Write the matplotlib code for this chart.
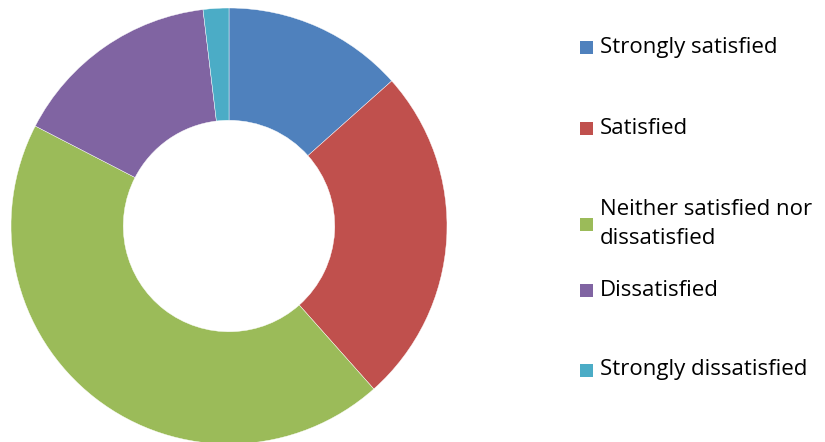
import matplotlib.pyplot as plt
from matplotlib.patches import Rectangle

labels = [
    "Strongly satisfied",
    "Satisfied",
    "Neither satisfied nor\ndissatisfied",
    "Dissatisfied",
    "Strongly dissatisfied",
]
values = [13.4, 25.0, 44.1, 15.5, 1.9]
colors = ["#4F81BD", "#C0504D", "#9BBB59", "#8064A2", "#4BACC6"]

W, H = 825, 442
fig = plt.figure(figsize=(W / 100, H / 100), dpi=100)

# donut: centre (229, 226) px, radius ~218 px
cx, cy, r = 229, 226, 218
ax = fig.add_axes([(cx - r) / W, (H - cy - r) / H, 2 * r / W, 2 * r / H])
ax.pie(
    values,
    colors=colors,
    startangle=90,
    counterclock=False,
    radius=1.0,
    wedgeprops=dict(width=0.515, edgecolor="white", linewidth=0.3),
)
ax.set_xlim(-1, 1)
ax.set_ylim(-1, 1)
ax.set_aspect("equal")
ax.axis("off")

# legend entries placed by hand (Excel spacing is uneven)
legend_y = [47, 128, 224, 290, 370]
for label, color, y in zip(labels, colors, legend_y):
    fig.patches.append(
        Rectangle(
            (580 / W, (H - y - 7) / H), 13 / W, 13 / H,
            transform=fig.transFigure, facecolor=color, edgecolor="none",
        )
    )
    fig.text(
        600 / W, (H - y) / H, label,
        fontsize=16, family="Open Sans", va="center", ha="left",
        color="#000000", linespacing=1.45,
    )

fig.savefig("out.png", dpi=100)
